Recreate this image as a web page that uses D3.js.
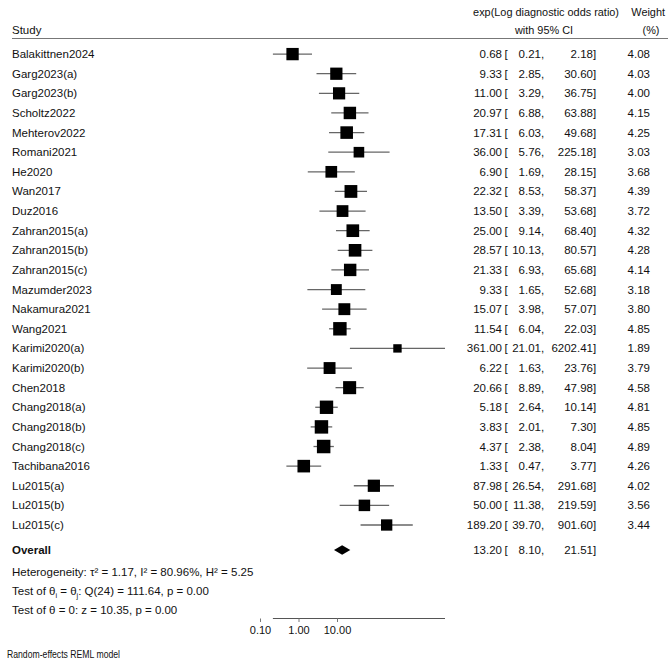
<!DOCTYPE html>
<html>
<head>
<meta charset="utf-8">
<script src="https://cdn.jsdelivr.net/npm/d3@7"></script>
<style>
  html, body { margin: 0; padding: 0; background: #fff; }
  svg text { font-family: "Liberation Sans", Arial, Helvetica, sans-serif; fill: #111; }
</style>
</head>
<body>
<svg id="chart" width="672" height="666"></svg>
<script>
const studies = ["Balakittnen2024","Garg2023(a)","Garg2023(b)","Scholtz2022","Mehterov2022","Romani2021","He2020","Wan2017","Duz2016","Zahran2015(a)","Zahran2015(b)","Zahran2015(c)","Mazumder2023","Nakamura2021","Wang2021","Karimi2020(a)","Karimi2020(b)","Chen2018","Chang2018(a)","Chang2018(b)","Chang2018(c)","Tachibana2016","Lu2015(a)","Lu2015(b)","Lu2015(c)"];
const estimates = [0.68,9.33,11.00,20.97,17.31,36.00,6.90,22.32,13.50,25.00,28.57,21.33,9.33,15.07,11.54,361.00,6.22,20.66,5.18,3.83,4.37,1.33,87.98,50.00,189.20];
const lowerCI = [0.21,2.85,3.29,6.88,6.03,5.76,1.69,8.53,3.39,9.14,10.13,6.93,1.65,3.98,6.04,21.01,1.63,8.89,2.64,2.01,2.38,0.47,26.54,11.38,39.70];
const upperCI = [2.18,30.60,36.75,63.88,49.68,225.18,28.15,58.37,53.68,68.40,80.57,65.68,52.68,57.07,22.03,6202.41,23.76,47.98,10.14,7.30,8.04,3.77,291.68,219.59,901.60];
const weights = [4.08,4.03,4.00,4.15,4.25,3.03,3.68,4.39,3.72,4.32,4.28,4.14,3.18,3.80,4.85,1.89,3.79,4.58,4.81,4.85,4.89,4.26,4.02,3.56,3.44];
const overall = {est: 13.20, lo: 8.10, hi: 21.51};
const tickValues = [0.1, 1, 10];
const tickLabels = ["0.10","1.00","10.00"];
const statLines = [
  "Heterogeneity: τ² = 1.17, I² = 80.96%, H² = 5.25",
  null,
  "Test of θ = 0: z = 10.35, p = 0.00"
];
const noteText = "Random-effects REML model";

const svg = d3.select("#chart");
const FS = 11.5;
const HFS = 10.9;
const fmt = d3.format(".2f");

// log scale: 1 decade ≈ 38.5px, x(1)=299
const x = d3.scaleLog().domain([0.1, 10]).range([260.5, 337.5]);
const y = d3.scaleLinear().domain([0, 24]).range([54.1, 525]);

// header
svg.append("text").attr("x", 12).attr("y", 34).attr("font-size", FS).text("Study");
svg.append("text").attr("x", 619).attr("y", 16).attr("font-size", HFS).attr("text-anchor","end").text("exp(Log diagnostic odds ratio)");
svg.append("text").attr("x", 544).attr("y", 34).attr("font-size", HFS).attr("text-anchor","middle").text("with 95% CI");
svg.append("text").attr("x", 665).attr("y", 16).attr("font-size", HFS).attr("text-anchor","end").text("Weight");
svg.append("text").attr("x", 651).attr("y", 34).attr("font-size", HFS).attr("text-anchor","middle").text("(%)");
svg.append("line").attr("x1", 12).attr("x2", 668).attr("y1", 38.5).attr("y2", 38.5)
  .attr("stroke", "#777").attr("stroke-width", 1.2);

function ciRow(g, cy, est, lo, hi, w) {
  g.append("text").attr("x", 502).attr("y", cy + 4).attr("font-size", FS).attr("text-anchor","end").text(fmt(est));
  g.append("text").attr("x", 504.5).attr("y", cy + 4).attr("font-size", FS).text("[");
  g.append("text").attr("x", 541).attr("y", cy + 4).attr("font-size", FS).attr("text-anchor","end").text(fmt(lo));
  g.append("text").attr("x", 541).attr("y", cy + 4).attr("font-size", FS).text(",");
  g.append("text").attr("x", 593).attr("y", cy + 4).attr("font-size", FS).attr("text-anchor","end").text(fmt(hi));
  g.append("text").attr("x", 593).attr("y", cy + 4).attr("font-size", FS).text("]");
  if (w != null) g.append("text").attr("x", 650).attr("y", cy + 4).attr("font-size", FS).attr("text-anchor","end").text(fmt(w));
}

const rows = svg.append("g");
studies.forEach((s, i) => {
  const cy = y(i);
  const g = rows.append("g");
  g.append("text").attr("x", 12).attr("y", cy + 4).attr("font-size", FS).text(s);
  g.append("line").attr("x1", x(lowerCI[i])).attr("x2", x(upperCI[i]))
    .attr("y1", cy).attr("y2", cy).attr("stroke", "#666").attr("stroke-width", 1.3);
  const side = 6.1 * Math.sqrt(weights[i]);
  g.append("rect").attr("x", x(estimates[i]) - side/2).attr("y", cy - side/2)
    .attr("width", side).attr("height", side).attr("fill", "#000");
  ciRow(g, cy, estimates[i], lowerCI[i], upperCI[i], weights[i]);
});

// overall
const oy = 550;
svg.append("text").attr("x", 12).attr("y", oy + 4).attr("font-size", FS).attr("font-weight","bold").text("Overall");
const dh = 4.8;
svg.append("path").attr("d", `M${x(overall.lo)},${oy} L${x(overall.est)},${oy-dh} L${x(overall.hi)},${oy} L${x(overall.est)},${oy+dh} Z`).attr("fill","#000");
ciRow(svg.append("g"), oy, overall.est, overall.lo, overall.hi, null);

// stats
svg.append("text").attr("x", 12).attr("y", 575.5).attr("font-size", FS).text(statLines[0]);
const t2 = svg.append("text").attr("x", 12).attr("y", 595).attr("font-size", FS);
t2.append("tspan").text("Test of θ");
t2.append("tspan").attr("font-size", FS*0.62).attr("dy", 3).text("i");
t2.append("tspan").attr("dy", -3).text(" = θ");
t2.append("tspan").attr("font-size", FS*0.62).attr("dy", 3).text("j");
t2.append("tspan").attr("dy", -3).text(": Q(24) = 111.64, p = 0.00");
svg.append("text").attr("x", 12).attr("y", 614).attr("font-size", FS).text(statLines[2]);

// axis
const axisY = 618.5;
const minLo = d3.min(lowerCI), maxHi = d3.max(upperCI);
svg.append("line").attr("x1", x(minLo)).attr("x2", x(maxHi)).attr("y1", axisY).attr("y2", axisY)
  .attr("stroke", "#555").attr("stroke-width", 1);
const ax = svg.append("g");
tickValues.forEach((t, i) => {
  ax.append("line").attr("x1", x(t)).attr("x2", x(t)).attr("y1", axisY).attr("y2", axisY + 3.5)
    .attr("stroke", "#777").attr("stroke-width", 1);
  ax.append("text").attr("x", x(t)).attr("y", 634).attr("font-size", 11).attr("text-anchor","middle").text(tickLabels[i]);
});

svg.append("text").attr("x", 7).attr("y", 658).attr("font-size", 10)
  .attr("textLength", 113).attr("lengthAdjust", "spacingAndGlyphs").text(noteText);
</script>
</body>
</html>
